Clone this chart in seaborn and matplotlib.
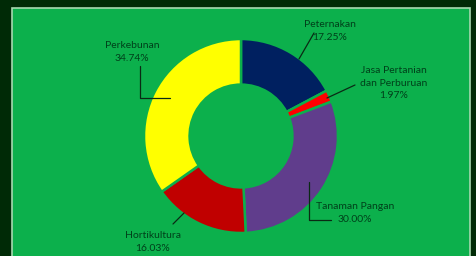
import matplotlib
matplotlib.use("Agg")
import matplotlib.pyplot as plt
import seaborn as sns
from matplotlib.patches import Rectangle

# ---- data ----
categories = ["Peternakan", "Jasa Pertanian\ndan Perburuan", "Tanaman Pangan", "Hortikultura", "Perkebunan"]
values = [17.25, 1.97, 30.00, 16.03, 34.74]
pct_labels = ["17.25%", "1.97%", "30.00%", "16.03%", "34.74%"]
colors = ["#002060", "#ff0000", "#603d8c", "#c00000", "#ffff00"]

sns.set_style("white")
plt.rcParams["font.family"] = ["Lato", "DejaVu Sans"]

W, H = 477, 256
fig = plt.figure(figsize=(W / 100, H / 100), dpi=100)
fig.patch.set_facecolor("#002a06")
ax = fig.add_axes([0, 0, 1, 1])
ax.set_xlim(0, W)
ax.set_ylim(0, H)
ax.set_aspect("equal")
ax.axis("off")

bg = "#0cb04c"
# plot area frame
ax.add_patch(Rectangle((12, -5), 458, H - 8 + 5, facecolor=bg, edgecolor="#a8d8b0", linewidth=1.2, zorder=0))

cx, cy, R = 241, 120, 97
wedges, _ = ax.pie(values, colors=colors, startangle=90, counterclock=False,
                   center=(cx, cy), radius=R, frame=True,
                   wedgeprops=dict(width=R * 0.47, edgecolor=bg, linewidth=1.8))
ax.set_xlim(0, W)
ax.set_ylim(0, H)
ax.axis("off")

# label layout (pixel positions, y measured from top)
text_pos = [(330, 31), (394, 83), (355, 213), (153, 242), (132, 52)]
leaders = [
    [(314, 33), (299, 59)],
    [(355, 85), (327, 98)],
    [(309, 182), (309, 220), (331, 220)],
    [(184, 213), (173, 224)],
    [(170, 98), (140, 98), (140, 66)],
]
tc = "#00401a"
for cat, pct, (tx, ty), pts in zip(categories, pct_labels, text_pos, leaders):
    ax.text(tx, H - ty, f"{cat}\n{pct}", ha="center", va="center", fontsize=7.5,
            color=tc, linespacing=1.45, zorder=5)
    xs = [p[0] for p in pts]
    ys = [H - p[1] for p in pts]
    ax.plot(xs, ys, color="#0a2a14", linewidth=0.9, zorder=5)

fig.savefig("out.png", dpi=100, facecolor=fig.get_facecolor())
